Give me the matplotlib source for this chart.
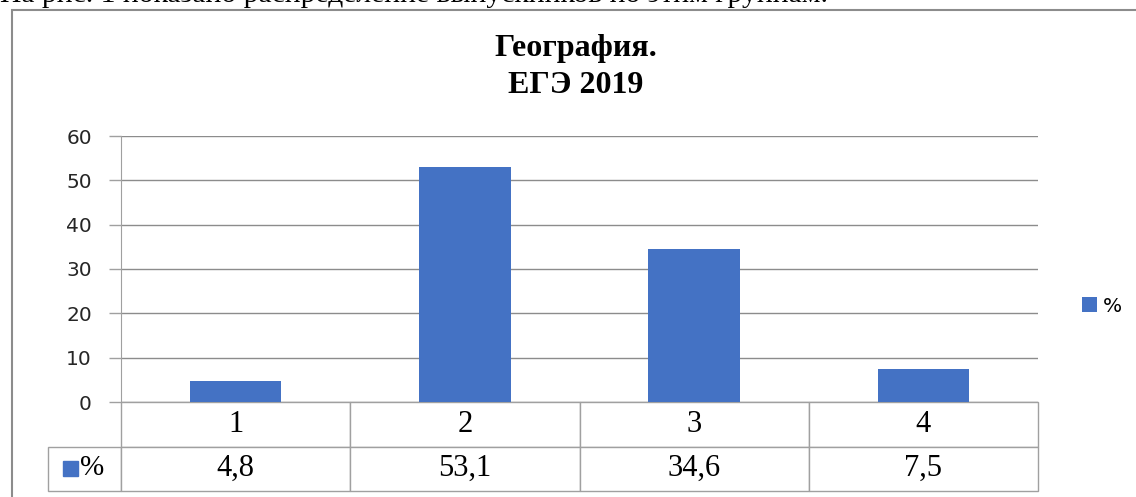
import matplotlib
matplotlib.use("Agg")
import matplotlib.pyplot as plt
from matplotlib.patches import Rectangle

# data
categories = ["1", "2", "3", "4"]
values = [4.8, 53.1, 34.6, 7.5]
value_labels = ["4,8", "53,1", "34,6", "7,5"]
series_name = "%"
yticks = [0, 10, 20, 30, 40, 50, 60]

W, H = 1136, 497
bar_color = "#4472C4"
line_grey = "#A0A0A0"

fig = plt.figure(figsize=(W / 100, H / 100), dpi=100)

# text above the chart, cut off at the top
fig.text(0.0, 1 - 2.5 / H, "На рис. 1 показано распределение выпускников по этим группам.",
         family="Liberation Serif", fontsize=21.3, ha="left", va="baseline")

# outer chart frame (right and bottom edges run off the picture)
fig.patches.append(Rectangle((12 / W, -0.2), 1.0, 1.2 - 10 / H,
                             transform=fig.transFigure, fill=False,
                             edgecolor="#8C8C8C", linewidth=1.5))

ax = fig.add_axes([121 / W, 1 - 402 / H, (1038 - 121) / W, (402 - 136) / H])
x = list(range(len(categories)))
ax.bar(x, values, width=0.4, color=bar_color, label=series_name, zorder=3)
ax.set_xlim(-0.5, len(categories) - 0.5)
ax.set_ylim(0, 60)
ax.set_yticks(yticks)
ax.set_yticklabels([str(v) for v in yticks], family="DejaVu Sans",
                   fontsize=14.5, color="#262626")
ax.set_xticks([])
ax.tick_params(axis="y", length=9, color=line_grey, pad=12, width=1)
ax.grid(axis="y", color="#8C8C8C", linewidth=1, zorder=0)
for s in ["top", "right", "bottom"]:
    ax.spines[s].set_visible(False)
ax.spines["left"].set_color(line_grey)

fig.text(576 / W, 1 - 67 / H, "География.\nЕГЭ 2019", family="Liberation Serif",
         fontweight="bold", fontsize=23, ha="center", va="center", linespacing=1.4)

# data table under the axis
ax_w = 1038 - 121
ax_h = 402 - 136
lab_w = 121 - 48
tab = ax.table(cellText=[value_labels], colLabels=categories, cellLoc="center",
               bbox=[0, -89 / ax_h, 1, 89 / ax_h])
cw = tab[1, 0].get_width()
tab.add_cell(1, -1, width=cw * lab_w / (ax_w / len(categories)),
             height=tab[1, 0].get_height(), text="")
tab.auto_set_font_size(False)
for cell in tab.get_celld().values():
    cell.set_edgecolor(line_grey)
    cell.set_linewidth(1)
    cell.get_text().set_fontsize(22)
    cell.get_text().set_family("Liberation Serif")

# legend key inside the table row label
ax.add_patch(Rectangle(((63 - 121) / ax_w, (402 - 476) / ax_h), 15 / ax_w, 15 / ax_h,
                       transform=ax.transAxes, color=bar_color, clip_on=False))
ax.text((80 - 121) / ax_w, (402 - 468) / ax_h, series_name, transform=ax.transAxes,
        family="Liberation Serif", fontsize=21, ha="left", va="center")

ax.legend(loc="center left", bbox_to_anchor=(1064 / W, 1 - 306 / H),
          bbox_transform=fig.transFigure, frameon=False, handlelength=0.75,
          handleheight=0.75, handletextpad=0.3, prop={"family": "DejaVu Sans", "size": 14.5})

fig.savefig("out.png", dpi=100)
